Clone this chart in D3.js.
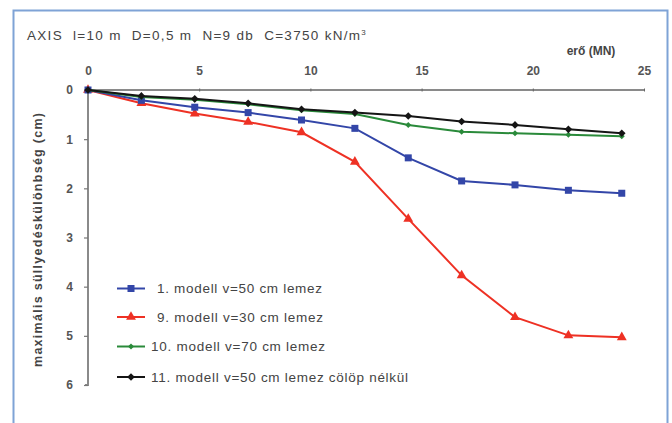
<!DOCTYPE html>
<html><head><meta charset="utf-8">
<script src="https://cdn.jsdelivr.net/npm/d3@7"></script>
<style>
body{margin:0;background:#fff;}
svg{display:block;font-family:"Liberation Sans",Arial,sans-serif;}
</style></head><body>
<svg id="c" width="672" height="423"></svg>
<script>
const forces = [0, 2.4, 4.8, 7.2, 9.6, 12, 14.4, 16.8, 19.2, 21.6, 24];
const model1 = [0, 0.21, 0.35, 0.46, 0.61, 0.78, 1.38, 1.85, 1.93, 2.04, 2.1];
const model9 = [0, 0.27, 0.48, 0.65, 0.86, 1.46, 2.62, 3.77, 4.62, 4.99, 5.03];
const model10 = [0, 0.14, 0.2, 0.29, 0.41, 0.49, 0.71, 0.85, 0.88, 0.91, 0.94];
const model11 = [0, 0.12, 0.18, 0.27, 0.39, 0.46, 0.53, 0.64, 0.71, 0.8, 0.88];
const seriesNames = ["1. modell v=50 cm lemez", "9. modell v=30 cm lemez", "10. modell v=70 cm lemez", "11. modell v=50 cm lemez cölöp nélkül"];
const xTicks = [0, 5, 10, 15, 20, 25];
const yTicks = [0, 1, 2, 3, 4, 5, 6];
const titleText = "AXIS  l=10 m  D=0,5 m  N=9 db  C=3750 kN/m";
const xTitle = "erő (MN)";
const yTitle = "maximális süllyedéskülönbség (cm)";

const svg = d3.select("#c");
const x = d3.scaleLinear().domain([0, 25]).range([88, 644]);
const y = d3.scaleLinear().domain([0, 6]).range([90, 385]);

// frame
svg.append("path").attr("d", "M13.5,423 V10.5 H667.5 V423").attr("fill", "none").attr("stroke", "#7fa3d6").attr("stroke-width", 2);

// title
const t = svg.append("text").attr("x", 27).attr("y", 40).attr("font-size", 13.5).attr("fill", "#444")
  .attr("xml:space", "preserve").style("white-space", "pre");
t.append("tspan").attr("textLength", 333).attr("lengthAdjust", "spacing").text(titleText);
t.append("tspan").attr("dy", -5).attr("font-size", 8).text("3");

// x axis (top)
const gx = svg.append("g").attr("transform", "translate(0,90)")
  .call(d3.axisTop(x).tickValues(xTicks).tickSize(3).tickPadding(12).tickFormat(d3.format("d")));
gx.select(".domain").attr("stroke", "#8a8a8a").attr("stroke-width", 2).attr("d", `M${x(0)},0H${x(25)}`);
gx.selectAll(".tick line").attr("stroke", "#666").attr("y1", 1.5).attr("y2", -1.5);
gx.selectAll(".tick text").attr("font-size", 12).attr("font-weight", "bold").attr("fill", "#555").attr("font-family", "Liberation Sans, Arial, sans-serif");

// y axis
const gy = svg.append("g").attr("transform", "translate(88,0)")
  .call(d3.axisLeft(y).tickValues(yTicks).tickSize(4).tickPadding(11).tickFormat(d3.format("d")));
gy.select(".domain").attr("stroke", "#8a8a8a").attr("stroke-width", 2).attr("d", `M0,${y(0)}V${y(6)}H-3`);
gy.selectAll(".tick line").attr("stroke", "#777").attr("stroke-width", 1.2);
gy.selectAll(".tick text").attr("font-size", 12).attr("font-weight", "bold").attr("fill", "#555").attr("font-family", "Liberation Sans, Arial, sans-serif");

// axis titles
svg.append("text").attr("x", 591).attr("y", 55).attr("text-anchor", "middle").attr("font-size", 12)
  .attr("font-weight", "bold").attr("fill", "#444").text(xTitle);
svg.append("text").attr("transform", "translate(42,240) rotate(-90)").attr("text-anchor", "middle")
  .attr("font-size", 12.5).attr("font-weight", "bold").attr("fill", "#444")
  .attr("textLength", 254).attr("lengthAdjust", "spacing").text(yTitle);

const series = [
  {name: seriesNames[0], vals: model1, color: "#3346a8", marker: "square"},
  {name: seriesNames[1], vals: model9, color: "#ee3124", marker: "triangle"},
  {name: seriesNames[2], vals: model10, color: "#2a8a3a", marker: "diamondS"},
  {name: seriesNames[3], vals: model11, color: "#151515", marker: "diamond"}
];

function drawMarker(g, type, color) {
  if (type === "square") g.append("rect").attr("x", -3.5).attr("y", -3.5).attr("width", 7).attr("height", 7).attr("fill", color);
  else if (type === "triangle") g.append("path").attr("d", d3.symbol(d3.symbolTriangle, 42)()).attr("fill", color);
  else if (type === "diamondS") g.append("path").attr("d", "M0,-3L3,0L0,3L-3,0Z").attr("fill", color);
  else g.append("path").attr("d", "M0,-3.8L3.8,0L0,3.8L-3.8,0Z").attr("fill", color);
}

const line = d3.line().x(d => x(d[0])).y(d => y(d[1]));
// draw order: red, blue, green, black
[1, 0, 2, 3].forEach(i => {
  const s = series[i];
  const pts = forces.map((f, k) => [f, s.vals[k]]);
  svg.append("path").datum(pts).attr("d", line).attr("fill", "none").attr("stroke", s.color).attr("stroke-width", 2);
  pts.forEach(p => {
    const g = svg.append("g").attr("transform", `translate(${x(p[0])},${y(p[1])})`);
    drawMarker(g, s.marker, s.color);
  });
});

// legend
const legY = [288.5, 317, 346.5, 377];
const legTx = [157, 157, 151, 151];
const legLen = [165, 166, 174, 257];
series.forEach((s, i) => {
  svg.append("line").attr("x1", 117).attr("x2", 145).attr("y1", legY[i]).attr("y2", legY[i]).attr("stroke", s.color).attr("stroke-width", 2);
  const g = svg.append("g").attr("transform", `translate(131,${legY[i]})`);
  drawMarker(g, s.marker, s.color);
  svg.append("text").attr("x", legTx[i]).attr("y", legY[i] + 4.5).attr("font-size", 13.5).attr("fill", "#444")
    .attr("textLength", legLen[i]).attr("lengthAdjust", "spacing").text(s.name);
});
</script>
</body></html>
